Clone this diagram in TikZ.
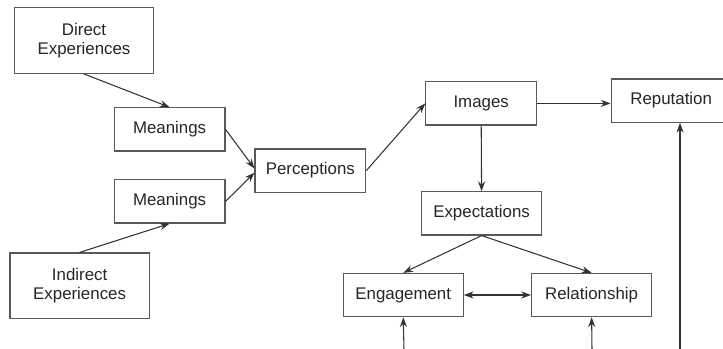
\documentclass[tikz,border=0pt]{standalone}
\usepackage{fontspec}
\setmainfont{Liberation Sans}
\usepackage{tikz}
\usetikzlibrary{arrows.meta,positioning}

\begin{document}
\begin{tikzpicture}[
    box/.style={draw=black!65, line width=0.8pt, fill=white, text=black!85, font=\fontsize{12}{14}\selectfont, minimum height=1.08cm, align=center, inner sep=2pt},
    wide/.style={box, minimum width=3.0cm},
    narrow/.style={box, minimum width=2.77cm},
    tall/.style={box, minimum width=3.48cm, minimum height=1.64cm},
    link/.style={draw=black!80, line width=0.75pt, -{Stealth[length=7pt,width=5pt]}},
]
\useasboundingbox (0,0) rectangle (18.075,8.725);
\clip (0,0) rectangle (18.075,8.725);

% Sources
\node[tall] (direct) at (2.10, 7.71) {Direct\\Experiences};
\node[tall] (indirect) at (1.99, 1.58) {Indirect\\Experiences};
\node[narrow] (meanA) at (4.24, 5.49) {Meanings};
\node[narrow] (meanB) at (4.24, 3.69) {Meanings};

% Middle chain
\node[narrow] (percep) at (7.76, 4.46) {Perceptions};
\node[narrow] (images) at (12.03, 6.14) {Images};
\node[wide] (expect) at (12.04, 3.39) {Expectations};
\node[wide] (engage) at (10.08, 1.35) {Engagement};
\node[wide] (relat) at (14.79, 1.35) {Relationship};
\node[wide] (reput) at (16.78, 6.21) {Reputation};

% Free ends at the bottom edge
\coordinate (engIn) at (10.10, 0);
\coordinate (relIn) at (14.80, 0);
\coordinate (repIn) at (17.00, 0);

% Connectors
\draw[link] (direct.south) -- (meanA.north);
\draw[link] (indirect.north) -- (meanB.south);
\draw[link] (meanA.east) -- ([yshift=1.5pt]percep.west);
\draw[link] (meanB.east) -- ([yshift=-1.5pt]percep.west);
\draw[link] (percep.east) -- (images.west);
\draw[link] (images.east) -- (reput.west |- images.east);
\draw[link] (images.south) -- (expect.north);
\draw[link] (expect.south) -- (engage.north);
\draw[link] (expect.south) -- (relat.north);
\draw[link, {Stealth[length=7pt,width=5pt]}-{Stealth[length=7pt,width=5pt]}] (engage.east) -- (relat.west);
\draw[link] (engIn) -- (engage.south);
\draw[link] (relIn) -- (relat.south);
\draw[link] (repIn) -- (repIn |- reput.south);
\end{tikzpicture}
\end{document}
